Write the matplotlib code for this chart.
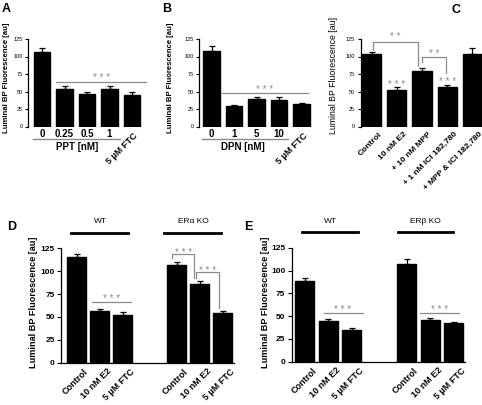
import matplotlib
matplotlib.use("Agg")
import matplotlib.pyplot as plt
from matplotlib.lines import Line2D
import numpy as np

plt.rcParams['font.family'] = ['Liberation Sans', 'DejaVu Sans']

# ---------------- data ----------------
a_labels = ["0", "0.25", "0.5", "1", "5 µM FTC"]
a_vals = [107, 53, 47, 53, 45]
a_err = [5, 5, 3, 5, 4]

b_labels = ["0", "1", "5", "10", "5 µM FTC"]
b_vals = [108, 29, 39, 38, 32]
b_err = [7, 2, 3, 4, 2]

c_labels = ["Control", "10 nM E2", "+ 10 nM MPP", "+ 1 nM ICI 182,780", "+ MPP & ICI 182,780"]
c_vals = [103, 52, 79, 57, 104]
c_err = [4, 4, 4, 3, 8]

de_labels = ["Control", "10 nM E2", "5 µM FTC", "Control", "10 nM E2", "5 µM FTC"]
d_vals = [115, 57, 52, 107, 86, 54]
d_err = [4, 1.5, 3, 3, 3, 3]
e_vals = [88, 45, 35, 107, 46, 42]
e_err = [4, 2, 1.5, 6, 2, 2]
de_pos = [0, 1, 2, 4.35, 5.35, 6.35]
d_groups = ["WT", "ERα KO"]
e_groups = ["WT", "ERβ KO"]

ylabel = "Luminal BP Fluorescence [au]"
yticks = [0, 25, 50, 75, 100, 125]

W, H = 482, 405
fig = plt.figure(figsize=(W / 100, H / 100), dpi=100)
GRAY = "#8a8a8a"


def ax_px(l, r, top, bottom, xlim):
    ax = fig.add_axes([l / W, 1 - bottom / H, (r - l) / W, (bottom - top) / H])
    ax.set_xlim(*xlim)
    ax.set_ylim(0, 125)
    ax.set_yticks(yticks)
    for s in ["top", "right"]:
        ax.spines[s].set_visible(False)
    ax.tick_params(axis='y', length=2.5, width=0.8, pad=1.5)
    ax.tick_params(axis='x', length=0)
    ax.spines['left'].set_linewidth(0.9)
    ax.spines['bottom'].set_linewidth(0.9)
    return ax


def fig_line(x1, x2, y, color="black", lw=1.0):
    fig.add_artist(Line2D([x1 / W, x2 / W], [1 - y / H, 1 - y / H],
                          transform=fig.transFigure, color=color, lw=lw))


def fig_text(x, y, s, **kw):
    fig.text(x / W, 1 - y / H, s, **kw)


def bars(ax, pos, vals, err, width):
    ax.bar(pos, vals, width=width, color="black", edgecolor="black", zorder=2)
    ax.errorbar(pos, vals, yerr=[np.zeros(len(vals)), err], fmt='none',
                ecolor="black", elinewidth=0.9, capsize=2.5, capthick=0.9, zorder=3)


def bracket(ax, x1, x2, ytop, yl, yr):
    ax.plot([x1, x1, x2, x2], [yl, ytop, ytop, yr], color=GRAY, lw=0.9,
            clip_on=False, zorder=4)


def stars(ax, x, y, s, size=7):
    txt = " ".join(s)
    ax.annotate(txt, (x, y), xytext=(0, -0.58 * size), textcoords='offset points',
                ha='center', va='baseline', color=GRAY, fontsize=size,
                annotation_clip=False)

# ---------------- Panel A ----------------
axA = ax_px(28.3, 146, 39, 126.5, (-0.61, 4.62))
posA = np.arange(len(a_vals))
bars(axA, posA, a_vals, a_err, 0.73)
axA.spines['bottom'].set_visible(False)
axA.set_xticks(posA)
axA.set_xticklabels(a_labels[:4] + [""], fontsize=7, fontweight='bold')
axA.tick_params(axis='x', pad=2)
axA.text(4.05, -7, a_labels[4], rotation=45, ha='right', va='top', fontsize=6.5,
         fontweight='bold', rotation_mode='anchor')
axA.tick_params(axis='y', labelsize=4)
axA.plot([0.63, 4.62], [64, 64], color=GRAY, lw=0.9, clip_on=False)
stars(axA, 2.64, 73.5, "***")
fig_line(33, 120, 139.3, color=GRAY, lw=1.0)
fig_text(76.7, 147.5, "PPT [nM]", ha='center', va='center', fontsize=7, fontweight='bold')
fig_text(7, 78, ylabel, rotation=90, ha='center', va='center', fontsize=5.6, fontweight='bold')
fig_text(2, 9, "A", ha='left', va='center', fontsize=9, fontweight='bold')

# ---------------- Panel B ----------------
axB = ax_px(199.3, 312, 39, 126.5, (-0.55, 4.46))
posB = np.arange(len(b_vals))
bars(axB, posB, b_vals, b_err, 0.73)
axB.spines['bottom'].set_visible(False)
axB.set_xticks(posB)
axB.set_xticklabels(b_labels[:4] + [""], fontsize=7, fontweight='bold')
axB.tick_params(axis='x', pad=2)
axB.text(4.05, -7, b_labels[4], rotation=45, ha='right', va='top', fontsize=6.5,
         fontweight='bold', rotation_mode='anchor')
axB.tick_params(axis='y', labelsize=4)
axB.plot([0.44, 4.28], [47.4, 47.4], color=GRAY, lw=0.9, clip_on=False)
stars(axB, 2.36, 56.5, "***")
fig_line(202, 288, 139.3, color=GRAY, lw=1.0)
fig_text(243, 147.5, "DPN [nM]", ha='center', va='center', fontsize=7, fontweight='bold')
fig_text(171, 78, ylabel, rotation=90, ha='center', va='center', fontsize=5.6, fontweight='bold')
fig_text(162, 9, "B", ha='left', va='center', fontsize=9, fontweight='bold')

# ---------------- Panel C ----------------
axC = ax_px(360.5, 482, 39, 126.5, (-0.45, 4.39))
posC = np.arange(len(c_vals))
bars(axC, posC, c_vals, c_err, 0.76)
axC.spines['bottom'].set_visible(False)
axC.set_xticks(posC + 0.25)
axC.set_xticklabels(c_labels, rotation=45, ha='right', rotation_mode='anchor',
                    fontsize=6, fontweight='bold')
axC.tick_params(axis='x', pad=3)
axC.tick_params(axis='y', labelsize=4)
bracket(axC, 0.04, 1.85, 121, 109, 86)
stars(axC, 0.95, 132, "**")
bracket(axC, 1.99, 2.94, 98.9, 92.6, 76)
stars(axC, 2.5, 107, "**")
stars(axC, 1.0, 63.5, "***")
stars(axC, 3.0, 67.5, "***")
fig_text(334, 75, ylabel, rotation=90, ha='center', va='center', fontsize=6.3)
fig_text(456, 10, "C", ha='center', va='center', fontsize=9, fontweight='bold')

# ---------------- Panel D ----------------
axD = ax_px(61, 233.7, 248.3, 362.7, (-0.68, 6.83))
bars(axD, de_pos, d_vals, d_err, 0.82)
axD.set_xticks(np.array(de_pos) + 0.3)
axD.set_xticklabels(de_labels, rotation=45, ha='right', rotation_mode='anchor',
                    fontsize=6.5, fontweight='bold')
axD.tick_params(axis='x', pad=3)
axD.tick_params(axis='y', labelsize=6, length=3)
for t in axD.get_yticklabels():
    t.set_fontweight('bold')
axD.plot([0.67, 2.37], [66.7, 66.7], color=GRAY, lw=0.9, clip_on=False)
stars(axD, 1.52, 73, "***")
bracket(axD, 4.15, 5.11, 118.5, 114.4, 92.6)
stars(axD, 4.63, 123, "***")
bracket(axD, 5.21, 6.18, 98.8, 92.6, 59.5)
stars(axD, 5.7, 103.5, "***")
fig_line(71, 128, 233, lw=2.0)
fig_line(164, 221, 233, lw=2.0)
fig_text(100, 221, d_groups[0], ha='center', va='center', fontsize=6)
fig_text(193, 221, d_groups[1], ha='center', va='center', fontsize=6)
fig_text(34, 302, ylabel, rotation=90, ha='center', va='center', fontsize=6.6, fontweight='bold')
fig_text(7, 227, "D", ha='left', va='center', fontsize=9, fontweight='bold')

# ---------------- Panel E ----------------
axE = ax_px(291.5, 465, 247.7, 361.7, (-0.57, 6.83))
bars(axE, de_pos, e_vals, e_err, 0.82)
axE.set_xticks(np.array(de_pos) + 0.3)
axE.set_xticklabels(de_labels, rotation=45, ha='right', rotation_mode='anchor',
                    fontsize=6.5, fontweight='bold')
axE.tick_params(axis='x', pad=3)
axE.tick_params(axis='y', labelsize=6, length=3)
for t in axE.get_yticklabels():
    t.set_fontweight('bold')
axE.plot([0.8, 2.5], [52.9, 52.9], color=GRAY, lw=0.9, clip_on=False)
stars(axE, 1.6, 60, "***")
axE.plot([4.9, 6.57], [52.9, 52.9], color=GRAY, lw=0.9, clip_on=False)
stars(axE, 5.75, 60, "***")
fig_line(301.7, 358.3, 232.3, lw=2.0)
fig_line(397.7, 453.3, 232.3, lw=2.0)
fig_text(330, 221, e_groups[0], ha='center', va='center', fontsize=6)
fig_text(425, 221, e_groups[1], ha='center', va='center', fontsize=6)
fig_text(265, 302, ylabel, rotation=90, ha='center', va='center', fontsize=6.6, fontweight='bold')
fig_text(244, 227, "E", ha='left', va='center', fontsize=9, fontweight='bold')

fig.savefig("out.png", dpi=100)
